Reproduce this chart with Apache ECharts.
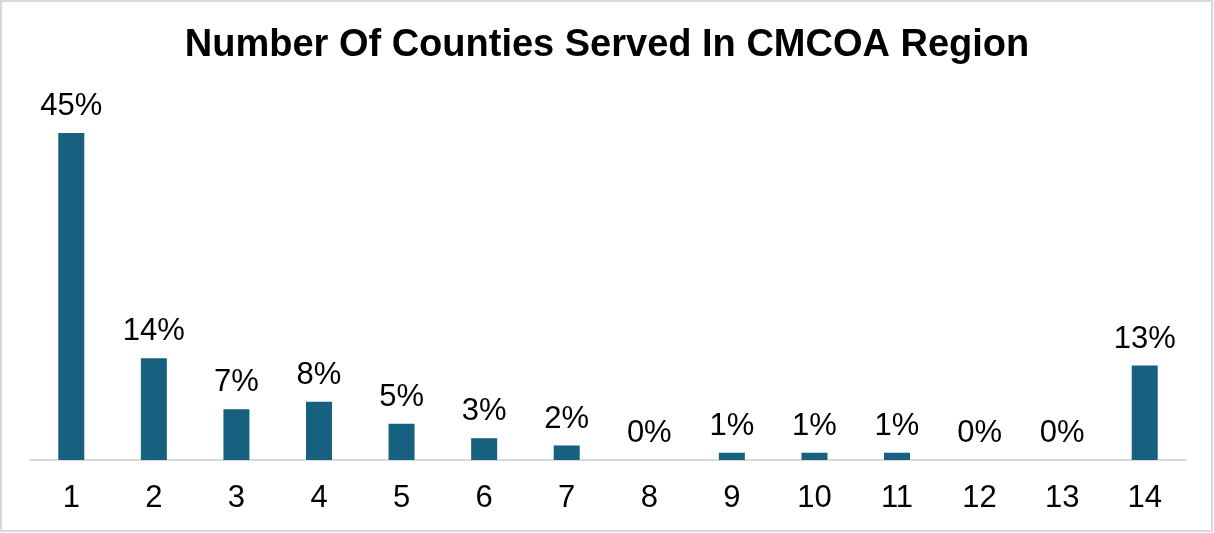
<!DOCTYPE html>
<html>
<head>
<meta charset="utf-8">
<script src="https://cdn.jsdelivr.net/npm/echarts@6/dist/echarts.min.js"></script>
<style>
  html, body { margin: 0; padding: 0; background: #fff; }
  #chart { width: 1214px; height: 533px; }
</style>
</head>
<body>
<div id="chart"></div>
<script>
// Number of counties served, share of respondents (%)
const counties = ['1', '2', '3', '4', '5', '6', '7', '8', '9', '10', '11', '12', '13', '14'];
const sharePct = [45, 14, 7, 8, 5, 3, 2, 0, 1, 1, 1, 0, 0, 13];
const titleText = 'Number Of Counties Served In CMCOA Region';

const chart = echarts.init(document.getElementById('chart'), null, { renderer: 'canvas' });

chart.setOption({
  animation: false,
  backgroundColor: '#ffffff',
  title: {
    text: titleText,
    left: 'center',
    top: 22,
    textStyle: {
      fontFamily: 'Liberation Sans, Arial, sans-serif',
      fontWeight: 'bold',
      fontSize: 38,
      color: '#000000'
    }
  },
  graphic: [{
    type: 'rect',
    shape: { x: 1, y: 1, width: 1211, height: 530 },
    style: { fill: 'none', stroke: '#d9d9d9', lineWidth: 2 },
    silent: true
  }],
  grid: { left: 30, right: 28, top: 133, bottom: 73 },
  xAxis: {
    type: 'category',
    data: counties,
    axisLine: { show: true, lineStyle: { color: '#d9d9d9', width: 2 } },
    axisTick: { show: false },
    axisLabel: {
      margin: 23,
      fontFamily: 'Liberation Sans, Arial, sans-serif',
      fontSize: 31,
      color: '#000000'
    }
  },
  yAxis: {
    type: 'value',
    min: 0,
    max: 45,
    show: false,
    splitLine: { show: false }
  },
  series: [{
    type: 'bar',
    data: sharePct,
    barWidth: 26,
    itemStyle: { color: '#17607f' },
    label: {
      show: true,
      position: 'top',
      distance: 11,
      formatter: '{c}%',
      fontFamily: 'Liberation Sans, Arial, sans-serif',
      fontSize: 31,
      color: '#000000'
    }
  }]
});
</script>
</body>
</html>
